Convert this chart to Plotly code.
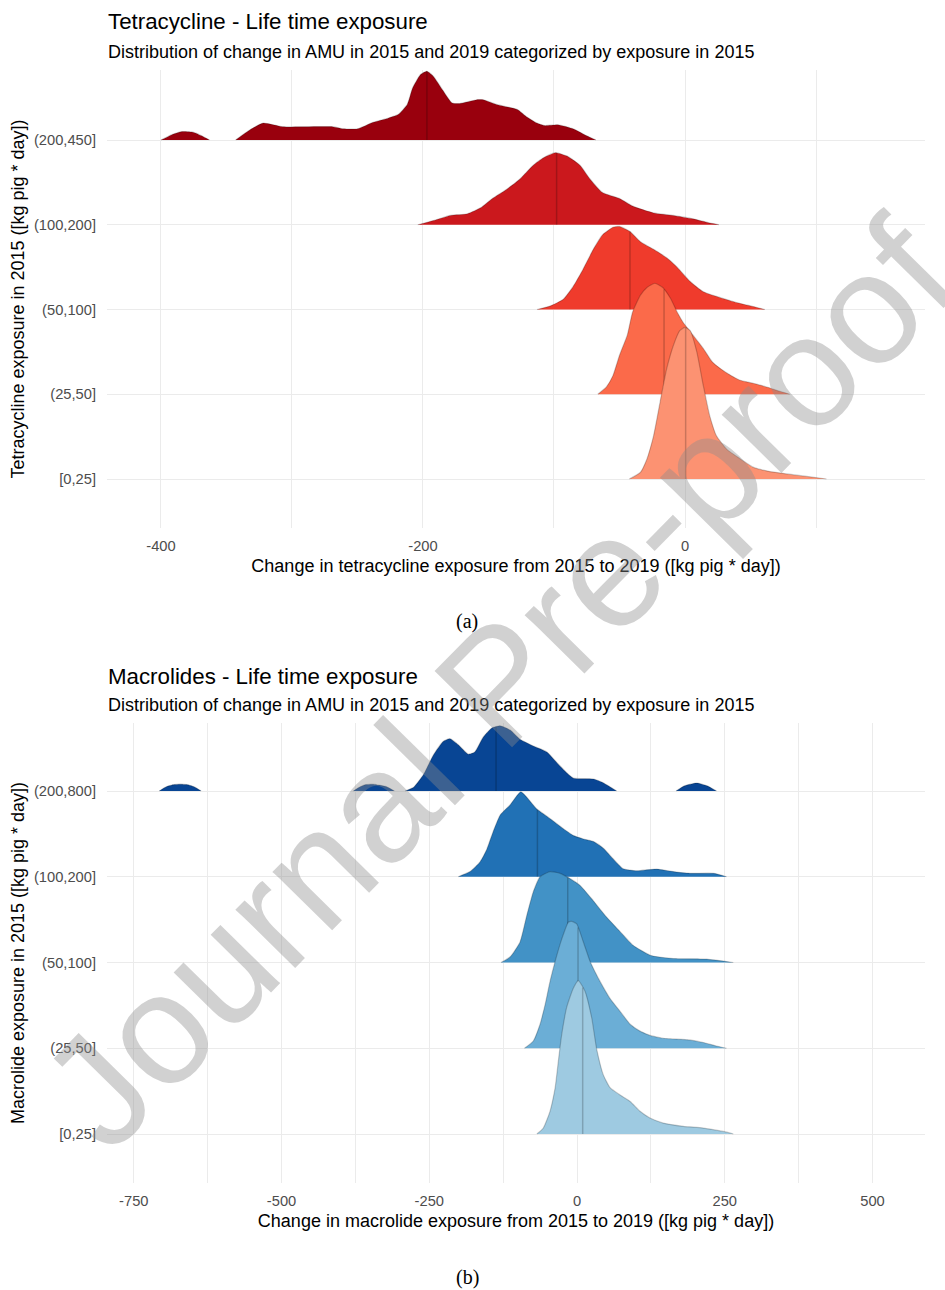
import plotly.graph_objects as go
import numpy as np

W, H = 945, 1290

# ---------------- data ----------------
tet_categories = ["[0,25]", "(25,50]", "(50,100]", "(100,200]", "(200,450]"]
mac_categories = ["[0,25]", "(25,50]", "(50,100]", "(100,200]", "(200,800]"]

tet_colors = ["#FC9272", "#FB6A4A", "#EF3B2C", "#CB181D", "#99000D"]
mac_colors = ["#9ECAE1", "#6BAED6", "#4292C6", "#2171B5", "#084594"]

# Tetracycline: change in exposure (x) and ridge density height (h)
tet_x_0_25 = [-42.5, -34, -29, -24, -19, -14, -9, -4, 0, 4, 9, 14, 19, 24, 32, 42, 52, 63, 78, 93, 108]
tet_h_0_25 = [0, 0.08, 0.24, 0.51, 0.91, 1.30, 1.57, 1.75, 1.79, 1.75, 1.50, 1.10, 0.74, 0.51, 0.35, 0.24, 0.14, 0.094, 0.06, 0.03, 0]

tet_x_25_50 = [-66.6, -60, -55, -50, -44, -40, -34, -29, -23, -17, -11, -6, -1.5, 6, 14, 21, 32, 42, 52, 63, 72.5, 80]
tet_h_25_50 = [0, 0.086, 0.22, 0.46, 0.70, 0.97, 1.17, 1.26, 1.31, 1.26, 1.13, 0.97, 0.85, 0.70, 0.54, 0.38, 0.25, 0.165, 0.13, 0.083, 0.035, 0]

tet_x_50_100 = [-113, -103, -93, -85.5, -78, -70, -63, -55, -50, -42, -34, -24, -14, -6, 4, 14, 27, 40, 52, 61]
tet_h_50_100 = [0, 0.04, 0.12, 0.27, 0.47, 0.71, 0.88, 0.97, 0.98, 0.92, 0.80, 0.71, 0.61, 0.50, 0.33, 0.21, 0.14, 0.08, 0.035, 0]

tet_x_100_200 = [-204, -192, -179, -166, -156, -147, -136, -126, -116, -108, -99, -90, -80, -73, -63, -50, -40, -24, -9, 6, 19, 26]
tet_h_100_200 = [0, 0.05, 0.11, 0.13, 0.20, 0.31, 0.42, 0.54, 0.70, 0.79, 0.85, 0.81, 0.70, 0.55, 0.38, 0.31, 0.22, 0.14, 0.11, 0.07, 0.02, 0]

tet_x_200_450 = [-400, -392, -384, -375, -369, -363, None,
                 -343, -332, -322, -307, -269, -261, -250, -238, -227, -219, -212, -208, -202, -197,
                 -192, -185, -178, -172, -159, -154, -144, -128, -121, -113, -107, -97, -85, -75, -68]
tet_h_200_450 = [0, 0.06, 0.10, 0.09, 0.05, 0, None,
                 0, 0.12, 0.20, 0.157, 0.157, 0.133, 0.133, 0.21, 0.255, 0.30, 0.42, 0.61, 0.77, 0.81,
                 0.75, 0.59, 0.44, 0.43, 0.475, 0.475, 0.42, 0.36, 0.275, 0.20, 0.17, 0.18, 0.13, 0.05, 0]

tet_medians = [0.5, -16, -42, -98, -197]

# Macrolides
mac_x_0_25 = [-68, -57, -45.7, -37, -31.6, -26, -17.4, -6.3, 2.2, 13.5, 25, 33, 44.5, 56, 73, 90, 106.6, 123.5, 146, 180, 213.7, 247.5, 264.5]
mac_h_0_25 = [0, 0.07, 0.265, 0.54, 0.85, 1.155, 1.48, 1.70, 1.79, 1.665, 1.35, 1.0, 0.69, 0.54, 0.455, 0.38, 0.265, 0.187, 0.128, 0.09, 0.07, 0.03, 0]

mac_x_25_50 = [-89, -74, -62.6, -54, -45.7, -37, -26, -14.7, -9, -0.5, 10.7, 22, 39, 56, 73, 90, 106.6, 123.5, 146, 191, 213.7, 236, 253]
mac_h_25_50 = [0, 0.085, 0.28, 0.51, 0.78, 1.015, 1.27, 1.47, 1.48, 1.45, 1.24, 1.015, 0.78, 0.58, 0.43, 0.28, 0.20, 0.15, 0.117, 0.097, 0.067, 0.027, 0]

mac_x_50_100 = [-128.6, -113, -96.4, -85, -74, -62.6, -45.7, -28.8, -14.7, 5, 27.6, 50, 73, 95, 124, 163, 219.5, 264.5]
mac_h_50_100 = [0, 0.067, 0.24, 0.55, 0.825, 1.0, 1.06, 1.04, 0.99, 0.90, 0.72, 0.53, 0.36, 0.20, 0.085, 0.047, 0.04, 0]

mac_x_100_200 = [-201, -181, -164, -153, -142, -130, -113, -95, -68, -46, -23, -6, 11, 28, 45, 61, 78, 101, 135, 163, 191, 231, 253]
mac_h_100_200 = [0, 0.06, 0.175, 0.315, 0.525, 0.72, 0.84, 0.99, 0.79, 0.68, 0.56, 0.48, 0.44, 0.41, 0.33, 0.21, 0.093, 0.07, 0.09, 0.06, 0.04, 0.04, 0]

mac_x_200_800 = [-707, -695, -682, -672, -660, -648, -636, None,
                 -378.5, -367, -357, -347, -335, -322, -309, None,
                 -291, -277, -260, -243, -226, -215, -201, -184, -173, -158.5, -144, -130, -113, -96, -74, -51,
                 -34, -17, -6, 28, 45, 67, None,
                 167.5, 182, 202.5, 220, 236]
mac_h_200_800 = [0, 0.05, 0.075, 0.08, 0.075, 0.05, 0, None,
                 0, 0.05, 0.075, 0.08, 0.07, 0.05, 0, None,
                 0, 0.04, 0.19, 0.42, 0.58, 0.61, 0.54, 0.43, 0.455, 0.63, 0.735, 0.76, 0.71, 0.60, 0.525, 0.455,
                 0.33, 0.21, 0.15, 0.14, 0.093, 0, None,
                 0, 0.06, 0.093, 0.06, 0]

mac_medians = [9.6, 1.7, -15.7, -67, -137]

tet_ticks = [-400, -200, 0]
mac_ticks = [-750, -500, -250, 0, 250, 500]

# ---------------- figure ----------------
FONT = "Liberation Sans, Arial, sans-serif"
fig = go.Figure()


def add_ridges(xs_list, hs_list, colors, medians, xa, ya):
    for i in reversed(range(len(xs_list))):
        base = i + 1
        xs, hs = xs_list[i], hs_list[i]
        ys = [None if h is None else base + h for h in hs]
        fig.add_trace(go.Scatter(
            x=xs, y=ys, mode="lines", fill="toself", fillcolor=colors[i],
            line=dict(color="rgba(0,0,0,0.2)", width=1.2, shape="spline", smoothing=0.5),
            xaxis=xa, yaxis=ya, hoverinfo="skip", showlegend=False))
        xv = np.array([v for v in xs if v is not None], dtype=float)
        hv = np.array([v for v in hs if v is not None], dtype=float)
        top = base + float(np.interp(medians[i], xv, hv))
        fig.add_trace(go.Scatter(
            x=[medians[i], medians[i]], y=[base, top], mode="lines",
            line=dict(color="rgba(0,0,0,0.2)", width=1.5),
            xaxis=xa, yaxis=ya, hoverinfo="skip", showlegend=False))


add_ridges([tet_x_0_25, tet_x_25_50, tet_x_50_100, tet_x_100_200, tet_x_200_450],
           [tet_h_0_25, tet_h_25_50, tet_h_50_100, tet_h_100_200, tet_h_200_450],
           tet_colors, tet_medians, "x", "y")
add_ridges([mac_x_0_25, mac_x_25_50, mac_x_50_100, mac_x_100_200, mac_x_200_800],
           [mac_h_0_25, mac_h_25_50, mac_h_50_100, mac_h_100_200, mac_h_200_800],
           mac_colors, mac_medians, "x2", "y2")

GRID = "#EBEBEB"
tickfont = dict(family=FONT, size=14.7, color="#4D4D4D")
titlefont = dict(family=FONT, size=18, color="#000000")

xdom = [107 / W, 925 / W]
common_x = dict(showline=False, zeroline=False, ticks="", showgrid=True, gridcolor=GRID,
                gridwidth=1, tickfont=tickfont, automargin=False, ticklabelstandoff=7)
common_y = dict(showline=False, zeroline=False, ticks="", showgrid=True, gridcolor=GRID,
                gridwidth=1, tickfont=tickfont, automargin=False, ticklabelstandoff=10)

fig.update_layout(
    width=W, height=H, autosize=False,
    margin=dict(l=0, r=0, t=0, b=0),
    paper_bgcolor="white", plot_bgcolor="white",
    xaxis=dict(domain=xdom, anchor="y", range=[-441.2, 183.2],
               tickmode="array", tickvals=tet_ticks, ticktext=[str(v) for v in tet_ticks],
               minor=dict(dtick=100, tick0=0, showgrid=True, gridcolor=GRID, gridwidth=1),
               title=dict(text="Change in tetracycline exposure from 2015 to 2019 ([kg pig * day])",
                          font=titlefont, standoff=6),
               **common_x),
    yaxis=dict(domain=[1 - 528 / H, 1 - 70 / H], anchor="x", range=[0.422, 5.826],
               tickmode="array", tickvals=[1, 2, 3, 4, 5], ticktext=tet_categories,
               title=dict(text="Tetracycline exposure in 2015 ([kg pig * day])",
                          font=titlefont, standoff=4),
               **common_y),
    xaxis2=dict(domain=xdom, anchor="y2", range=[-795.3, 588.8],
                tickmode="array", tickvals=mac_ticks, ticktext=[str(v) for v in mac_ticks],
                minor=dict(dtick=125, tick0=0, showgrid=True, gridcolor=GRID, gridwidth=1),
                title=dict(text="Change in macrolide exposure from 2015 to 2019 ([kg pig * day])",
                           font=titlefont, standoff=6),
                **common_x),
    yaxis2=dict(domain=[1 - 1183 / H, 1 - 723 / H], anchor="x2", range=[0.429, 5.793],
                tickmode="array", tickvals=[1, 2, 3, 4, 5], ticktext=mac_categories,
                title=dict(text="Macrolide exposure in 2015 ([kg pig * day])",
                           font=titlefont, standoff=4),
                **common_y),
)

ann = []


def txt(text, x, y, size, color="#000000", xanchor="left", family=FONT, **kw):
    ann.append(dict(text=text, x=x / W, y=1 - y / H, xref="paper", yref="paper",
                    xanchor=xanchor, yanchor="middle", showarrow=False,
                    font=dict(family=family, size=size, color=color), **kw))


txt("Tetracycline - Life time exposure", 106, 22, 22.3)
txt("Distribution of change in AMU in 2015 and 2019 categorized by exposure in 2015", 106, 52, 18)
txt("Macrolides - Life time exposure", 106, 676, 22.3)
txt("Distribution of change in AMU in 2015 and 2019 categorized by exposure in 2015", 106, 705, 18)
txt("(a)", 467, 621, 20, xanchor="center", family="Liberation Serif, DejaVu Serif, serif")
txt("(b)", 467, 1277, 20, xanchor="center", family="Liberation Serif, DejaVu Serif, serif")
txt("Journal Pre-proof", 498, 683, 158, color="rgba(140,140,140,0.4)", xanchor="center",
    textangle=-45.5)

fig.update_layout(annotations=ann)

fig.write_html("out.html", config={"displayModeBar": False},
               post_script="document.body.style.margin='0px';")
